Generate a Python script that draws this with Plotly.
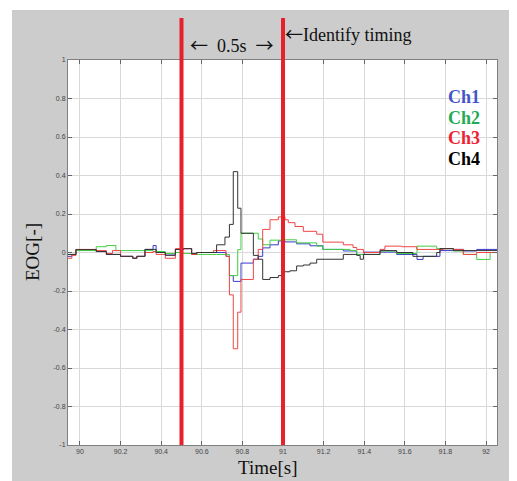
import plotly.graph_objects as go

# ---- data ----
t1 = [89.94, 89.96, 89.98, 90.08, 90.13, 90.20, 90.26, 90.28, 90.32, 90.36, 90.375, 90.42, 90.47, 90.51, 90.55, 90.575,
      90.66, 90.72, 90.736, 90.755, 90.793, 90.854, 90.878, 90.90, 90.936, 90.977, 91.01, 91.067, 91.133, 91.196,
      91.297, 91.363, 91.40, 91.56, 91.66, 91.69, 91.773, 91.84, 91.89, 91.954, 92.06]
ch1 = [-0.02, -0.01, 0.015, 0.005, -0.01, -0.02, -0.03, -0.02, 0.016, 0.036, 0.0, -0.014, 0.016, 0.02, -0.01, 0.0,
       0.0, -0.02, -0.12, -0.15, -0.055, -0.035, -0.02, 0.024, 0.04, 0.06, 0.055, 0.045, 0.035, 0.016,
       0.008, -0.01, 0.002, -0.01, -0.036, -0.02, 0.01, 0.016, 0.008, 0.016, 0.016]

t2 = [89.94, 89.98, 90.08, 90.13, 90.177, 90.32, 90.36, 90.42, 90.47, 90.50, 90.575, 90.673, 90.736, 90.777, 90.793,
      90.854, 90.878, 90.90, 90.936, 90.993, 91.067, 91.166, 91.196, 91.33, 91.363, 91.478, 91.56, 91.66, 91.757,
      91.839, 91.888, 91.954, 92.02, 92.06]
ch2 = [-0.01, 0.01, 0.03, 0.036, 0.01, 0.01, 0.005, -0.005, 0.0, -0.005, -0.01, -0.01, -0.12, 0.015, 0.10,
       0.10, 0.07, 0.04, 0.064, 0.066, 0.05, 0.033, 0.016, 0.01, -0.01, 0.008, -0.005, 0.033, 0.02,
       0.008, -0.01, -0.036, 0.0, 0.0]

t3 = [89.94, 89.96, 89.98, 90.08, 90.13, 90.16, 90.20, 90.26, 90.28, 90.32, 90.36, 90.375, 90.42, 90.47, 90.55,
      90.575, 90.657, 90.719, 90.736, 90.755, 90.777, 90.793, 90.854, 90.878, 90.90, 90.936, 90.977, 91.01, 91.026,
      91.059, 91.10, 91.166, 91.196, 91.297, 91.345, 91.363, 91.396, 91.478, 91.502, 91.585, 91.659, 91.79, 91.839,
      91.888, 91.954, 92.06]
ch3 = [-0.03, -0.015, 0.016, 0.01, -0.005, 0.01, -0.02, -0.03, -0.02, 0.0, 0.005, -0.01, -0.03, 0.02, -0.01,
       0.0, 0.01, -0.02, -0.22, -0.50, -0.31, -0.14, -0.035, 0.016, 0.12, 0.17, 0.185, 0.17, 0.155,
       0.135, 0.11, 0.095, 0.054, 0.04, 0.026, 0.016, 0.0, 0.016, 0.033, 0.03, 0.016, 0.02, 0.016,
       -0.01, 0.0, 0.0]

t4 = [89.94, 89.98, 90.08, 90.13, 90.20, 90.26, 90.28, 90.32, 90.375, 90.42, 90.47, 90.51, 90.55, 90.575, 90.673,
      90.714, 90.736, 90.755, 90.777, 90.793, 90.854, 90.878, 90.90, 90.936, 90.977, 90.993, 91.034, 91.067, 91.10,
      91.133, 91.166, 91.297, 91.363, 91.38, 91.396, 91.478, 91.56, 91.64, 91.757, 91.773, 91.839, 92.06]
ch4 = [-0.01, 0.015, 0.005, -0.01, -0.02, -0.03, -0.02, 0.016, 0.0, -0.014, 0.016, 0.02, -0.005, 0.0, 0.04,
       0.08, 0.146, 0.42, 0.23, 0.10, -0.015, -0.035, -0.14, -0.13, -0.12, -0.10, -0.095, -0.07, -0.065,
       -0.055, -0.035, -0.01, -0.015, -0.035, -0.01, 0.01, 0.0, -0.02, 0.0, 0.02, 0.01, 0.01]

channels = ["Ch1", "Ch2", "Ch3", "Ch4"]
line_colors = ["#3a3acc", "#3fd03f", "#f04545", "#333333"]
label_colors = ["#4455cc", "#22aa55", "#ee2233", "#000000"]
markers = [90.5, 91.0]

x_ticks = [90, 90.2, 90.4, 90.6, 90.8, 91, 91.2, 91.4, 91.6, 91.8, 92]
y_ticks = [1, 0.8, 0.6, 0.4, 0.2, 0, -0.2, -0.4, -0.6, -0.8, -1]
y_tick_text = ["1", "0.8", "0.6", "0.4", "0.2", "0", "-0.2", "-0.4", "-0.6", "-0.8", "-1"]

# ---- figure ----
fig = go.Figure()
series = [(t1, ch1), (t2, ch2), (t3, ch3), (t4, ch4)]
for (tt, vv), name, col in zip(series, channels, line_colors):
    fig.add_trace(go.Scatter(x=tt, y=vv, mode="lines", line=dict(color=col, width=1, shape="hv"),
                             name=name, showlegend=False))

shapes = [
    dict(type="rect", xref="paper", yref="paper", x0=-56/429, x1=441/429, y0=-36/385, y1=435/385,
         fillcolor="#cccccc", line=dict(width=0), layer="below"),
    dict(type="rect", xref="paper", yref="paper", x0=0, x1=1, y0=0, y1=1,
         fillcolor="white", line=dict(width=0), layer="below"),
]
for m in markers:
    shapes.append(dict(type="line", xref="x", yref="paper", x0=m, x1=m, y0=0, y1=1 + 42/385,
                       line=dict(color="#e8202a", width=4), layer="above"))

serif = "Liberation Serif, Times New Roman, serif"
arrow = '<span style="font-family:Noto Sans CJK JP">{}</span>'
annotations = [
    dict(x=sum(markers)/2, y=1 + 16/385, xref="x", yref="paper",
         text=arrow.format("←") + "\u00a0 0.5s \u00a0" + arrow.format("→"), showarrow=False,
         font=dict(family=serif, size=18, color="#111"), xanchor="center", yanchor="middle"),
    dict(x=markers[1], y=1 + 27/385, xref="x", yref="paper", text=arrow.format("←") + "Identify timing",
         showarrow=False, font=dict(family=serif, size=18, color="#111"), xanchor="left", yanchor="middle",
         xshift=0),
    dict(x=(267-68)/429, y=-23/385, xref="paper", yref="paper", text="Time[s]", showarrow=False,
         font=dict(family=serif, size=19, color="#111"), xanchor="center", yanchor="middle"),
    dict(x=-36/429, y=(445-252)/385, xref="paper", yref="paper", text="EOG[-]", showarrow=False, textangle=-90,
         font=dict(family=serif, size=19, color="#111"), xanchor="center", yanchor="middle"),
]
for i, (name, col) in enumerate(zip(channels, label_colors)):
    annotations.append(dict(x=(446-68)/429, y=(445-(97 + 20.5*i))/385, xref="paper", yref="paper",
                            text="<b>" + name + "</b>", showarrow=False,
                            font=dict(family=serif, size=18, color=col), xanchor="left", yanchor="middle"))

tickfont = dict(family="Liberation Sans, Arial, sans-serif", size=7, color="#444")
fig.update_layout(
    width=517, height=481,
    margin=dict(l=68, r=20, t=60, b=36),
    paper_bgcolor="white", plot_bgcolor="rgba(0,0,0,0)",
    shapes=shapes, annotations=annotations,
    xaxis=dict(range=[89.941, 92.054], tickvals=x_ticks, ticks="inside", ticklen=4, tickcolor="#666",
               showgrid=True, gridcolor="#d8d8d8", gridwidth=1, zeroline=False,
               showline=True, linecolor="#808080", linewidth=1, mirror="ticks", tickfont=tickfont),
    yaxis=dict(range=[-1, 1], tickvals=y_ticks, ticktext=y_tick_text, ticks="inside", ticklen=4, tickcolor="#666",
               showgrid=True, gridcolor="#d8d8d8", gridwidth=1, zeroline=False,
               showline=True, linecolor="#808080", linewidth=1, mirror="ticks", tickfont=tickfont),
)

fig.write_html("out.html", config={"displayModeBar": False},
               post_script="document.body.style.margin='0';")
